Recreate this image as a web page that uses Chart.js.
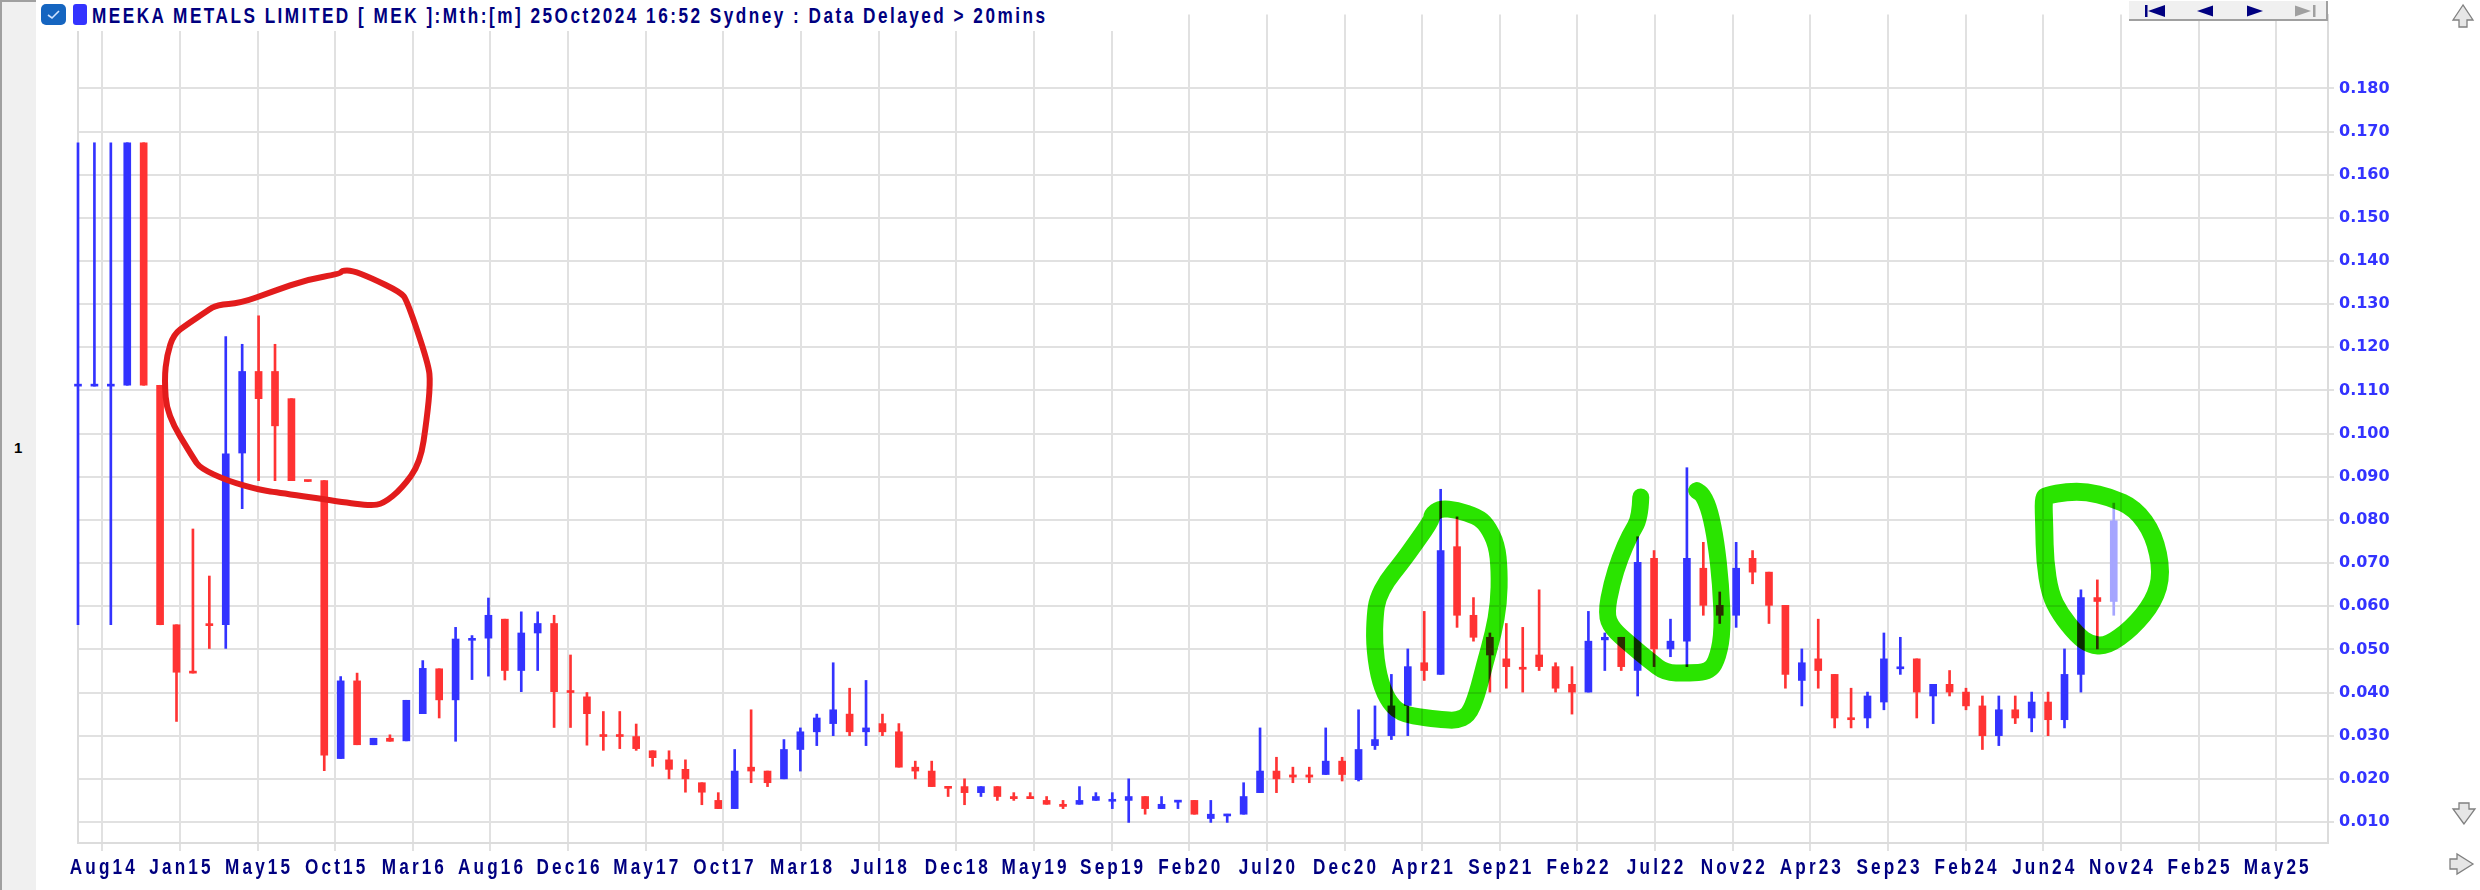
<!DOCTYPE html>
<html>
<head>
<meta charset="utf-8">
<title>MEEKA METALS LIMITED [ MEK ] - Mth</title>
<script src="https://cdn.jsdelivr.net/npm/chart.js@4.4.1/dist/chart.umd.min.js"></script>
<style>
  html, body { margin: 0; padding: 0; background: #fff; }
  #wrap { position: relative; width: 2480px; height: 890px; overflow: hidden; background: #fff; }
  #chart { position: absolute; left: 0; top: 0; }
  #side { position: absolute; left: 0; top: 0; width: 36px; height: 890px; background: #f0f0f0;
          border-left: 2px solid #a0a0a0; border-top: 2px solid #a0a0a0; box-sizing: border-box; }
  #side span { position: absolute; left: 12px; top: 437px; font: bold 15px "Liberation Sans", Arial, sans-serif; color: #000; }
  #head { position: absolute; left: 36px; top: 0; width: 1090px; height: 31px; background: #fff; }
  #chk { position: absolute; left: 5px; top: 4px; width: 25px; height: 21px; border-radius: 5px; background: #1565c0; }
  #pill { position: absolute; left: 37px; top: 4px; width: 14px; height: 21px; border-radius: 3px; background: #3333ff; }
  #title { position: absolute; left: 56px; top: 3px; white-space: nowrap; color: #000080;
           font: bold 22px "Liberation Sans", Arial, sans-serif; transform-origin: 0 50%; }
  #nav { position: absolute; left: 2129px; top: 1px; width: 199px; height: 20px; background: #f0f0f0;
         border-right: 2px solid #a0a0a0; border-bottom: 2px solid #a0a0a0; box-sizing: border-box; }
  .arr { position: absolute; }
</style>
</head>
<body>
<div id="wrap">
  <canvas id="chart" width="2480" height="890"></canvas>
  <div id="side"><span>1</span></div>
  <div id="head">
    <div id="chk">
      <svg width="25" height="21"><path d="M7 11 L11 14 L18 7" stroke="#cfe3ff" stroke-width="1.6" fill="none"/></svg>
    </div>
    <div id="pill"></div>
    <div id="title">MEEKA METALS LIMITED [ MEK ]:Mth:[m]  25Oct2024 16:52 Sydney : Data Delayed &gt; 20mins</div>
  </div>
  <div id="nav">
    <svg width="199" height="20">
      <rect x="16" y="4" width="2.5" height="12" fill="#000080"/>
      <polygon points="19,10 36,4 36,16" fill="#000080"/>
      <polygon points="68,10 84,4.5 84,15.5" fill="#000080"/>
      <polygon points="134,10 118,4.5 118,15.5" fill="#000080"/>
      <polygon points="182,10 166,4.5 166,15.5" fill="#a0a0a0"/>
      <rect x="184" y="4" width="2.5" height="12" fill="#a0a0a0"/>
    </svg>
  </div>
  <svg class="arr" style="left:2450px;top:3px" width="26" height="27">
    <polygon points="13,2 3,17 9,17 9,24 17,24 17,17 23,17" fill="#e6e6e6" stroke="#808080" stroke-width="1.3"/>
  </svg>
  <svg class="arr" style="left:2450px;top:800px" width="28" height="28">
    <polygon points="14,24 3,9 9,9 9,3 19,3 19,9 25,9" fill="#e6e6e6" stroke="#808080" stroke-width="1.3"/>
  </svg>
  <svg class="arr" style="left:2447px;top:851px" width="30" height="28">
    <polygon points="26,13 10,3 10,8 3,8 3,18 10,18 10,23" fill="#e6e6e6" stroke="#808080" stroke-width="1.3"/>
  </svg>
</div>

<script>
// months, Jun14 -> Oct24
const MONTHS = [
  "Jun14","Jul14","Aug14","Sep14","Oct14","Nov14","Dec14",
  "Jan15","Feb15","Mar15","Apr15","May15","Jun15","Jul15","Aug15","Sep15","Oct15","Nov15","Dec15",
  "Jan16","Feb16","Mar16","Apr16","May16","Jun16","Jul16","Aug16","Sep16","Oct16","Nov16","Dec16",
  "Jan17","Feb17","Mar17","Apr17","May17","Jun17","Jul17","Aug17","Sep17","Oct17","Nov17","Dec17",
  "Jan18","Feb18","Mar18","Apr18","May18","Jun18","Jul18","Aug18","Sep18","Oct18","Nov18","Dec18",
  "Jan19","Feb19","Mar19","Apr19","May19","Jun19","Jul19","Aug19","Sep19","Oct19","Nov19","Dec19",
  "Jan20","Feb20","Mar20","Apr20","May20","Jun20","Jul20","Aug20","Sep20","Oct20","Nov20","Dec20",
  "Jan21","Feb21","Mar21","Apr21","May21","Jun21","Jul21","Aug21","Sep21","Oct21","Nov21","Dec21",
  "Jan22","Feb22","Mar22","Apr22","May22","Jun22","Jul22","Aug22","Sep22","Oct22","Nov22","Dec22",
  "Jan23","Feb23","Mar23","Apr23","May23","Jun23","Jul23","Aug23","Sep23","Oct23","Nov23","Dec23",
  "Jan24","Feb24","Mar24","Apr24","May24","Jun24","Jul24","Aug24","Sep24","Oct24"
];

const OPEN = [
  .1110,.1110,.1110,.1112,.1674,.1112,.0557,.0447,.0557,.0557,
  .0955,.1144,.1144,.1081,.0891,.0891,.0247,.0427,.0279,.0294,
  .0288,.0351,.0455,.0383,.0521,.0526,.0570,.0451,.0538,.0560,
  .0401,.0390,.0299,.0299,.0298,.0265,.0244,.0222,.0191,.0150,
  .0131,.0227,.0218,.0200,.0268,.0309,.0328,.0350,.0309,.0328,
  .0309,.0227,.0218,.0182,.0182,.0168,.0182,.0159,.0159,.0150,
  .0141,.0141,.0150,.0148,.0150,.0159,.0131,.0146,.0150,.0108,
  .0114,.0118,.0168,.0218,.0209,.0209,.0210,.0241,.0198,.0277,
  .0300,.0370,.0469,.0442,.0738,.0579,.0528,.0478,.0458,.0487,
  .0460,.0419,.0401,.0522,.0528,.0451,.0711,.0501,.0519,.0688,
  .0602,.0579,.0711,.0679,.0602,.0428,.0478,.0442,.0341,.0341,
  .0378,.0455,.0478,.0392,.0419,.0401,.0369,.0300,.0360,.0341,
  .0378,.0337,.0442,.0620,.0611
];
const HIGH = [
  .1674,.1674,.1674,.1674,.1674,.1112,.0557,.0779,.0670,.1225,
  .1207,.1273,.1207,.1081,.0891,.0891,.0437,.0445,.0294,.0302,
  .0382,.0474,.0455,.0551,.0532,.0619,.0570,.0587,.0587,.0579,
  .0487,.0400,.0356,.0356,.0327,.0265,.0265,.0244,.0191,.0168,
  .0268,.0360,.0218,.0291,.0318,.0350,.0469,.0410,.0428,.0350,
  .0328,.0241,.0241,.0182,.0200,.0182,.0182,.0168,.0168,.0159,
  .0150,.0182,.0168,.0168,.0200,.0159,.0159,.0150,.0150,.0150,
  .0118,.0191,.0318,.0250,.0227,.0227,.0318,.0250,.0360,.0369,
  .0442,.0501,.0588,.0871,.0807,.0620,.0538,.0560,.0551,.0638,
  .0469,.0460,.0588,.0538,.0528,.0761,.0729,.0570,.0921,.0748,
  .0633,.0748,.0729,.0679,.0602,.0501,.0570,.0442,.0410,.0401,
  .0538,.0528,.0478,.0419,.0451,.0410,.0392,.0392,.0392,.0401,
  .0401,.0501,.0638,.0661,.0839
];
const LOW = [
  .0557,.1110,.0557,.1112,.1112,.0557,.0333,.0445,.0502,.0502,
  .0826,.0891,.0891,.0891,.0889,.0219,.0247,.0279,.0279,.0287,
  .0288,.0351,.0341,.0287,.0430,.0438,.0429,.0402,.0451,.0319,
  .0319,.0278,.0266,.0270,.0266,.0229,.0200,.0169,.0140,.0131,
  .0131,.0191,.0182,.0200,.0218,.0277,.0300,.0300,.0277,.0300,
  .0227,.0200,.0182,.0159,.0140,.0159,.0150,.0150,.0154,.0141,
  .0131,.0141,.0150,.0131,.0099,.0118,.0131,.0131,.0118,.0099,
  .0099,.0118,.0168,.0168,.0191,.0191,.0210,.0195,.0195,.0268,
  .0291,.0300,.0428,.0442,.0551,.0519,.0401,.0410,.0401,.0451,
  .0401,.0350,.0401,.0451,.0451,.0392,.0460,.0483,.0460,.0579,
  .0560,.0551,.0652,.0560,.0410,.0369,.0410,.0318,.0318,.0318,
  .0360,.0442,.0341,.0328,.0392,.0360,.0268,.0277,.0328,.0309,
  .0300,.0318,.0401,.0501,.0579
];
const CLOSE = [
  .1112,.1112,.1112,.1674,.1112,.0557,.0447,.0445,.0555,.0953,
  .1144,.1081,.1018,.0891,.0889,.0255,.0427,.0279,.0294,.0287,
  .0382,.0456,.0383,.0524,.0524,.0579,.0451,.0538,.0560,.0402,
  .0400,.0351,.0298,.0298,.0270,.0249,.0222,.0200,.0169,.0131,
  .0218,.0218,.0191,.0268,.0309,.0341,.0360,.0309,.0318,.0309,
  .0227,.0218,.0182,.0178,.0168,.0182,.0159,.0154,.0154,.0141,
  .0136,.0150,.0159,.0150,.0159,.0131,.0141,.0150,.0118,.0118,
  .0118,.0159,.0218,.0200,.0204,.0204,.0241,.0210,.0268,.0291,
  .0369,.0460,.0451,.0729,.0579,.0528,.0487,.0460,.0454,.0460,
  .0410,.0401,.0519,.0528,.0460,.0702,.0501,.0519,.0711,.0602,
  .0579,.0688,.0679,.0602,.0442,.0469,.0451,.0341,.0337,.0392,
  .0478,.0459,.0401,.0419,.0401,.0369,.0300,.0360,.0341,.0378,
  .0337,.0442,.0620,.0611,.0798
];

// axis labels
const X_TICK_LABELS = [
  "Aug14","Jan15","May15","Oct15","Mar16","Aug16","Dec16","May17","Oct17","Mar18",
  "Jul18","Dec18","May19","Sep19","Feb20","Jul20","Dec20","Apr21","Sep21","Feb22",
  "Jul22","Nov22","Apr23","Sep23","Feb24","Jun24","Nov24","Feb25","May25"
];
const Y_TICKS = [0.01,0.02,0.03,0.04,0.05,0.06,0.07,0.08,0.09,0.10,0.11,0.12,0.13,0.14,0.15,0.16,0.17,0.18];

// hand drawn marks, [month index, price]
const RED_LOOP = [
  [16.08,.1378],[16.69,.1378],[17.80,.1362],[19.63,.1328],[20.04,.1309],[21.35,.1161],[21.46,.1116],
  [21.25,.1034],[20.85,.0932],[19.73,.0873],[18.61,.0838],[17.80,.0833],[15.97,.0842],[12.32,.0863],
  [11.10,.0869],[9.07,.0891],[7.45,.0920],[7.04,.0942],[5.42,.1044],[5.26,.1126],[5.42,.1182],
  [5.82,.1230],[6.64,.1253],[7.86,.1284],[8.47,.1299],[9.88,.1302],[11.91,.1330],[13.94,.1357],[15.97,.1370]
];
const GREEN_LOOP_1 = [
  [82.46,.0812],[82.97,.0827],[83.98,.0823],[85.20,.0808],[85.81,.0789],[86.42,.0743],[86.58,.0682],
  [86.54,.0606],[86.21,.0537],[85.71,.0469],[85.20,.0393],[84.69,.0347],[83.98,.0336],[83.37,.0336],
  [82.16,.0341],[80.53,.0351],[79.72,.0385],[79.21,.0439],[78.95,.0515],[79.01,.0580],[79.15,.0617],
  [79.72,.0659],[80.53,.0697],[81.55,.0750],[82.46,.0800]
];
const GREEN_LOOP_2 = [
  [95.19,.0853],[95.15,.0804],[94.54,.0766],[93.93,.0713],[93.42,.0652],[93.08,.0583],[93.42,.0549],
  [94.54,.0511],[95.76,.0473],[96.67,.0446],[97.99,.0445],[99.41,.0448],[99.91,.0484],[100.18,.0545],
  [100.06,.0652],[99.77,.0750],[99.41,.0819],[99.00,.0857],[98.60,.0868]
];
const GREEN_LOOP_3 = [
  [119.92,.0857],[121.13,.0865],[122.35,.0865],[123.77,.0853],[125.30,.0827],[126.45,.0766],
  [126.94,.0677],[126.45,.0611],[125.11,.0549],[123.57,.0507],[122.55,.0511],[121.74,.0534],
  [120.72,.0583],[120.12,.0629],[119.81,.0705],[119.77,.0781],[119.71,.0850]
];

const UP = "#3333ff";
const DOWN = "#ff3333";
const LIVE = "#a6a6ff";
const GRID = "#e1e1e1";
const NAVY = "#000080";

// x grid: one line every ~4.73 months, first one near Aug14
const X_TICK_START = 1.48;
const X_TICK_STEP = 4.729;
// condensed bold look of the terminal font
const SQUEEZE = 0.78;

function candleColor(i) {
  if (i === OPEN.length - 1) return LIVE;
  return CLOSE[i] >= OPEN[i] ? UP : DOWN;
}

const colors = OPEN.map((_, i) => candleColor(i));
const wicks = OPEN.map((_, i) => ({ x: i, y: [LOW[i], HIGH[i]] }));
const bodies = OPEN.map((o, i) => ({ x: i, y: [Math.min(o, CLOSE[i]), Math.max(o, CLOSE[i])] }));

function tracePath(ctx, pts, closed) {
  const n = pts.length;
  ctx.beginPath();
  if (closed) {
    const a = pts[n - 1], b = pts[0];
    ctx.moveTo((a[0] + b[0]) / 2, (a[1] + b[1]) / 2);
    for (let i = 0; i < n; i++) {
      const p = pts[i], q = pts[(i + 1) % n];
      ctx.quadraticCurveTo(p[0], p[1], (p[0] + q[0]) / 2, (p[1] + q[1]) / 2);
    }
    ctx.closePath();
  } else {
    ctx.moveTo(pts[0][0], pts[0][1]);
    for (let i = 1; i < n - 1; i++) {
      const p = pts[i], q = pts[i + 1];
      ctx.quadraticCurveTo(p[0], p[1], (p[0] + q[0]) / 2, (p[1] + q[1]) / 2);
    }
    ctx.lineTo(pts[n - 1][0], pts[n - 1][1]);
  }
}

const marksPlugin = {
  id: "marks",
  beforeDatasetsDraw(chart) {
    // left frame line of the plot
    const { ctx, chartArea } = chart;
    ctx.save();
    ctx.strokeStyle = "#dcdcdc";
    ctx.lineWidth = 2;
    ctx.beginPath();
    ctx.moveTo(chartArea.left, chartArea.top);
    ctx.lineTo(chartArea.left, chartArea.bottom);
    ctx.stroke();
    ctx.restore();
  },
  afterDatasetsDraw(chart) {
    const { ctx, scales } = chart;
    const toPx = (pts) => pts.map(([m, p]) => [scales.x.getPixelForValue(m), scales.y.getPixelForValue(p)]);
    ctx.save();
    ctx.lineJoin = "round";
    ctx.lineCap = "round";

    ctx.strokeStyle = "#e21c1c";
    ctx.lineWidth = 6;
    tracePath(ctx, toPx(RED_LOOP), true);
    ctx.stroke();

    // green marker behaves like a highlighter
    ctx.globalCompositeOperation = "multiply";
    ctx.strokeStyle = "#2ae400";
    [[GREEN_LOOP_1, true, 17], [GREEN_LOOP_2, false, 17], [GREEN_LOOP_3, true, 18]].forEach(([pts, closed, w]) => {
      ctx.lineWidth = w;
      tracePath(ctx, toPx(pts), closed);
      ctx.stroke();
    });
    ctx.restore();
  },
  afterDraw(chart) {
    // month labels under the x grid lines
    const { ctx, scales, chartArea } = chart;
    ctx.save();
    ctx.fillStyle = NAVY;
    ctx.font = 'bold 22px "Liberation Sans", Arial, sans-serif';
    ctx.letterSpacing = "4px";
    ctx.textAlign = "center";
    ctx.textBaseline = "middle";
    scales.x.ticks.forEach((t, k) => {
      ctx.save();
      ctx.translate(scales.x.getPixelForValue(t.value), chartArea.bottom + 25);
      ctx.scale(SQUEEZE, 1);
      ctx.fillText(X_TICK_LABELS[k], 2, 0);
      ctx.restore();
    });
    ctx.restore();
  }
};

new Chart(document.getElementById("chart"), {
  type: "bar",
  data: {
    labels: MONTHS,
    datasets: [
      { label: "range", data: wicks, backgroundColor: colors, barThickness: 2, grouped: false, clip: false },
      { label: "open/close", data: bodies, backgroundColor: colors, barThickness: 7, minBarLength: 2, grouped: false, clip: false }
    ]
  },
  options: {
    responsive: false,
    animation: false,
    devicePixelRatio: 1,
    layout: { padding: { left: 78, top: 2, right: 0, bottom: 0 } },
    plugins: { legend: { display: false }, tooltip: { enabled: false } },
    scales: {
      x: {
        type: "linear",
        min: 0,
        max: 137.05,
        offset: false,
        grid: { offset: false, color: GRID, lineWidth: 2, tickLength: 8 },
        border: { color: "#dcdcdc", width: 2 },
        ticks: { display: false },
        afterBuildTicks: (s) => { s.ticks = X_TICK_LABELS.map((_, k) => ({ value: X_TICK_START + k * X_TICK_STEP })); },
        afterFit: (s) => { s.height = 47; }
      },
      y: {
        position: "right",
        min: 0.00513,
        max: 0.1971,
        grid: { color: GRID, lineWidth: 2, tickLength: 6 },
        border: { color: "#dcdcdc", width: 2 },
        ticks: {
          color: "#3333ff",
          font: { family: "DejaVu Sans", weight: "bold", size: 16 },
          padding: 5,
          autoSkip: false,
          callback: (v) => v.toFixed(3)
        },
        afterBuildTicks: (s) => { s.ticks = Y_TICKS.map((v) => ({ value: v })); },
        afterFit: (s) => { s.width = 152; }
      }
    }
  },
  plugins: [marksPlugin]
});

// squeeze the header text the same way and fit it to its width in the terminal
const title = document.getElementById("title");
const natural = title.getBoundingClientRect().width;
title.style.letterSpacing = ((958 / SQUEEZE - natural) / title.textContent.length) + "px";
title.style.transform = "scaleX(" + SQUEEZE + ")";
</script>
</body>
</html>
